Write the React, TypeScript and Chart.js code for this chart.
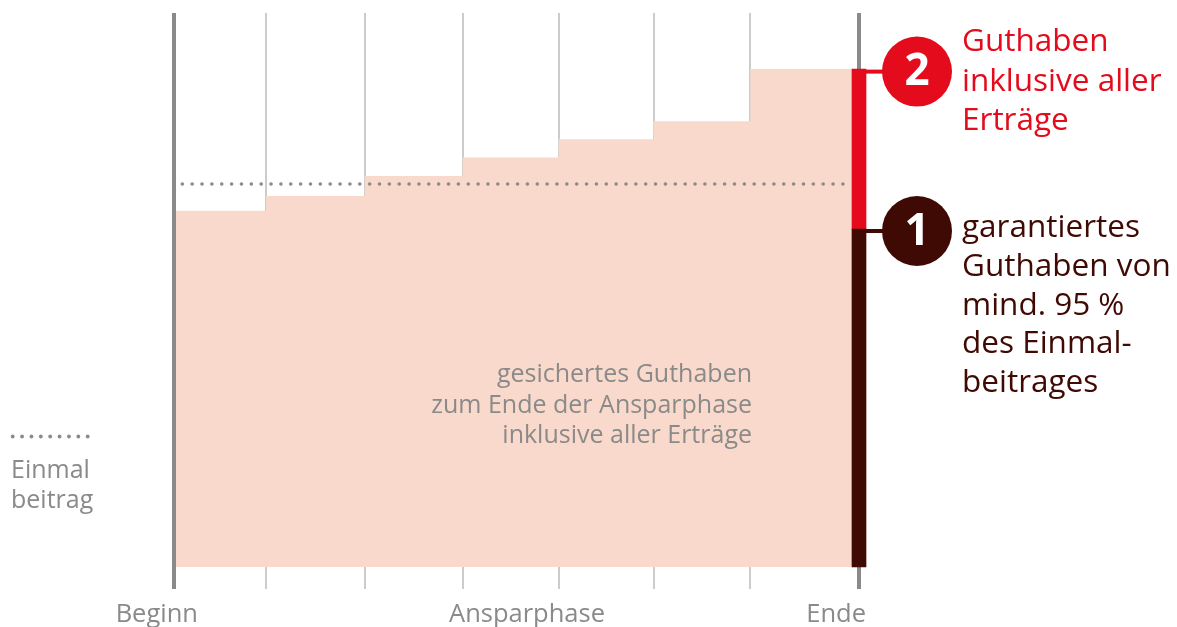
import React, { useEffect, useRef } from "react";
import { Chart, registerables } from "chart.js";

Chart.register(...registerables);

// ---- data ----
const periodEdges = [0, 0.94, 1.95, 2.95, 3.93, 4.9, 5.89, 7];
const balanceValues = [93, 96.9, 102.1, 106.9, 111.7, 116.4, 130];
const singlePremium = 100;
const guaranteedValue = 88.25;
const finalValue = 130;
const xLabels = ["Beginn", "Ansparphase", "Ende"];
const label2Lines = ["Guthaben", "inklusive aller", "Erträge"];
const label1Lines = ["garantiertes", "Guthaben von", "mind. 95 %", "des Einmal-", "beitrages"];
const areaLines = ["gesichertes Guthaben", "zum Ende der Ansparphase", "inklusive aller Erträge"];
const premiumLegendLines = ["Einmal", "beitrag"];

const RED = "#e30b1c";
const DARK = "#3f0a03";
const GRAY = "#8a8a8a";
const LIGHT = "#cccccc";
const FILL = "#f9d9cb";
const FONT = '"Open Sans", "Noto Sans", sans-serif';

const annotations = {
  id: "annotations",
  afterDraw(chart: any) {
    const { ctx } = chart;
    const y = chart.scales.y;
    ctx.save();

    const markers = [
      { num: "2", color: RED, py: y.getPixelForValue(finalValue) + 2.5 },
      { num: "1", color: DARK, py: y.getPixelForValue(guaranteedValue) + 2 },
    ];
    markers.forEach((m) => {
      ctx.fillStyle = m.color;
      ctx.fillRect(865, m.py - 2, 20, 4);
      ctx.beginPath();
      ctx.arc(917, m.py, 35, 0, Math.PI * 2);
      ctx.fill();
      ctx.fillStyle = "#ffffff";
      ctx.font = `bold 44px ${FONT}`;
      ctx.textAlign = "center";
      ctx.textBaseline = "middle";
      ctx.fillText(m.num, 917, m.py + 1);
    });

    ctx.textBaseline = "alphabetic";
    ctx.textAlign = "left";
    ctx.font = `31.5px ${FONT}`;
    ctx.fillStyle = RED;
    label2Lines.forEach((t, i) => ctx.fillText(t, 962, 51 + i * 39.5));
    ctx.fillStyle = DARK;
    label1Lines.forEach((t, i) => ctx.fillText(t, 962, 237 + i * 38.8));

    ctx.fillStyle = GRAY;
    ctx.font = `25px ${FONT}`;
    ctx.textAlign = "right";
    areaLines.forEach((t, i) => ctx.fillText(t, 752, 382 + i * 30.5));

    ctx.textAlign = "left";
    premiumLegendLines.forEach((t, i) => ctx.fillText(t, 11, 478 + i * 30));
    for (let i = 0; i < 9; i++) {
      ctx.beginPath();
      ctx.arc(12.7 + i * 9.375, 436.5, 1.9, 0, Math.PI * 2);
      ctx.fill();
    }

    ctx.font = `25.5px ${FONT}`;
    ctx.textAlign = "right";
    ctx.fillText(xLabels[0], 198, 622);
    ctx.textAlign = "center";
    ctx.fillText(xLabels[1], 527, 622);
    ctx.textAlign = "right";
    ctx.fillText(xLabels[2], 866, 622);

    ctx.restore();
  },
};

export default function App() {
  const ref = useRef<HTMLCanvasElement>(null);
  useEffect(() => {
    if (!ref.current) return;
    const areaData = balanceValues.map((v, i) => ({ x: periodEdges[i], y: v }));
    areaData.push({ x: periodEdges[periodEdges.length - 1], y: balanceValues[balanceValues.length - 1] });
    const first = periodEdges[0];
    const last = periodEdges[periodEdges.length - 1];
    const chart = new Chart(ref.current, {
      type: "line",
      data: {
        datasets: [
          {
            type: "bar",
            data: [{ x: last, y: [0, guaranteedValue] }] as any,
            backgroundColor: DARK,
            borderWidth: 0,
            barThickness: 14,
            grouped: false,
            clip: false as any,
            order: 1,
          } as any,
          {
            type: "bar",
            data: [{ x: last, y: [guaranteedValue, finalValue] }] as any,
            backgroundColor: RED,
            borderWidth: 0,
            barThickness: 14,
            grouped: false,
            clip: false as any,
            order: 1,
          } as any,
          {
            data: [
              { x: first, y: singlePremium },
              { x: 6.93, y: singlePremium },
            ],
            borderColor: GRAY,
            borderWidth: 3.6,
            borderDash: [0, 9.86],
            borderDashOffset: 1.56,
            borderCapStyle: "round",
            pointRadius: 0,
            fill: false,
            order: 2,
          },
          {
            data: areaData,
            stepped: true,
            borderWidth: 0,
            borderColor: "rgba(0,0,0,0)",
            backgroundColor: FILL,
            fill: "origin",
            pointRadius: 0,
            order: 3,
          },
        ],
      },
      options: {
        responsive: false,
        animation: false,
        events: [],
        layout: { padding: { left: 174, right: 318, top: 13, bottom: 38 } },
        plugins: { legend: { display: false }, tooltip: { enabled: false } },
        scales: {
          x: {
            type: "linear",
            min: first,
            max: last,
            offset: false,
            border: { display: false },
            ticks: { display: false },
            afterBuildTicks: (s: any) => {
              s.ticks = periodEdges.map((v) => ({ value: v }));
            },
            afterFit: (s: any) => {
              s.height = 0;
            },
            grid: {
              drawTicks: false,
              offset: false,
              color: (c: any) => (c.index === 0 || c.index === periodEdges.length - 1 ? GRAY : LIGHT),
              lineWidth: (c: any) => (c.index === 0 || c.index === periodEdges.length - 1 ? 4 : 2),
            },
          },
          xEdge: {
            type: "linear",
            axis: "x",
            position: "bottom",
            min: first,
            max: last,
            offset: false,
            border: { display: false },
            ticks: { display: false },
            afterBuildTicks: (s: any) => {
              s.ticks = [{ value: first }];
            },
            afterFit: (s: any) => {
              s.height = 0;
            },
            grid: { drawTicks: false, offset: false, color: GRAY, lineWidth: 4, z: 1 },
          } as any,
          y: {
            display: false,
            min: -5.74,
            max: 144.65,
          },
        },
      },
      plugins: [annotations],
    });
    return () => chart.destroy();
  }, []);
  return (
    <div style={{ position: "absolute", left: 0, top: 0, width: 1177, height: 627 }}>
      <canvas ref={ref} width={1177} height={627} />
    </div>
  );
}
